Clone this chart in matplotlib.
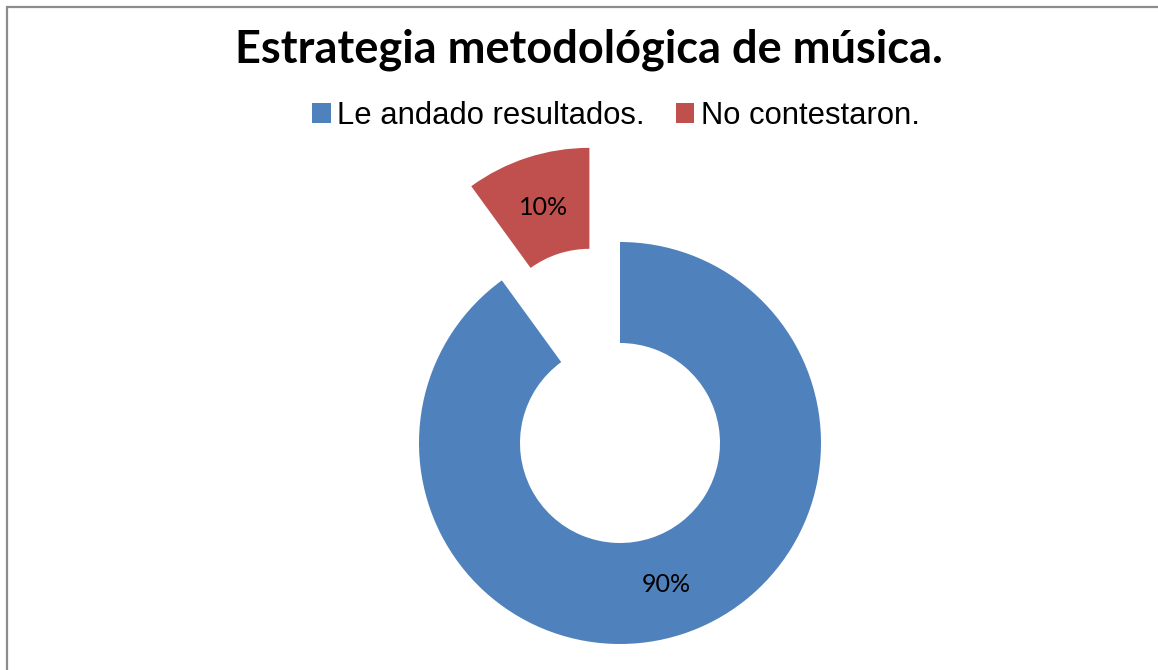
import matplotlib.pyplot as plt
from matplotlib.patches import Rectangle

# data
labels = ['Le andado resultados.', 'No contestaron.']
values = [90, 10]
colors = ['#4F81BD', '#C0504D']

fig = plt.figure(figsize=(11.58, 6.70), dpi=100)
ax = fig.add_axes([0, 0, 1, 1])

wedges, texts, autotexts = ax.pie(
    values, colors=colors, startangle=90, counterclock=False,
    radius=201, center=(620, 670 - 443), explode=[0, 99],
    wedgeprops=dict(width=101, linewidth=0),
    autopct='%1.0f%%', pctdistance=0.74,
    textprops=dict(family='Lato', fontsize=18, color='black'))

ax.set_xlim(0, 1158)
ax.set_ylim(0, 670)
ax.set_aspect('equal')
ax.axis('off')

fig.text(589 / 1158, 1 - 50 / 670, 'Estrategia metodológica de música.',
         ha='center', va='center', fontsize=32.5, fontweight='bold', family='Lato')

leg = fig.legend(wedges, labels, loc='center', bbox_to_anchor=(616 / 1158, 1 - 116 / 670),
                 ncol=2, frameon=False, handlelength=0.6, handleheight=0.6,
                 handletextpad=0.2, columnspacing=1.0,
                 prop=dict(family='Liberation Sans', size=22.3))

# chart area border (only top and left edges visible)
fig.patches.append(Rectangle((7 / 1158, -0.1), 1.2, 1.1 - 7 / 670, transform=fig.transFigure,
                             fill=False, edgecolor='#8c8c8c', linewidth=1.6))

fig.savefig('out.png', dpi=100)
